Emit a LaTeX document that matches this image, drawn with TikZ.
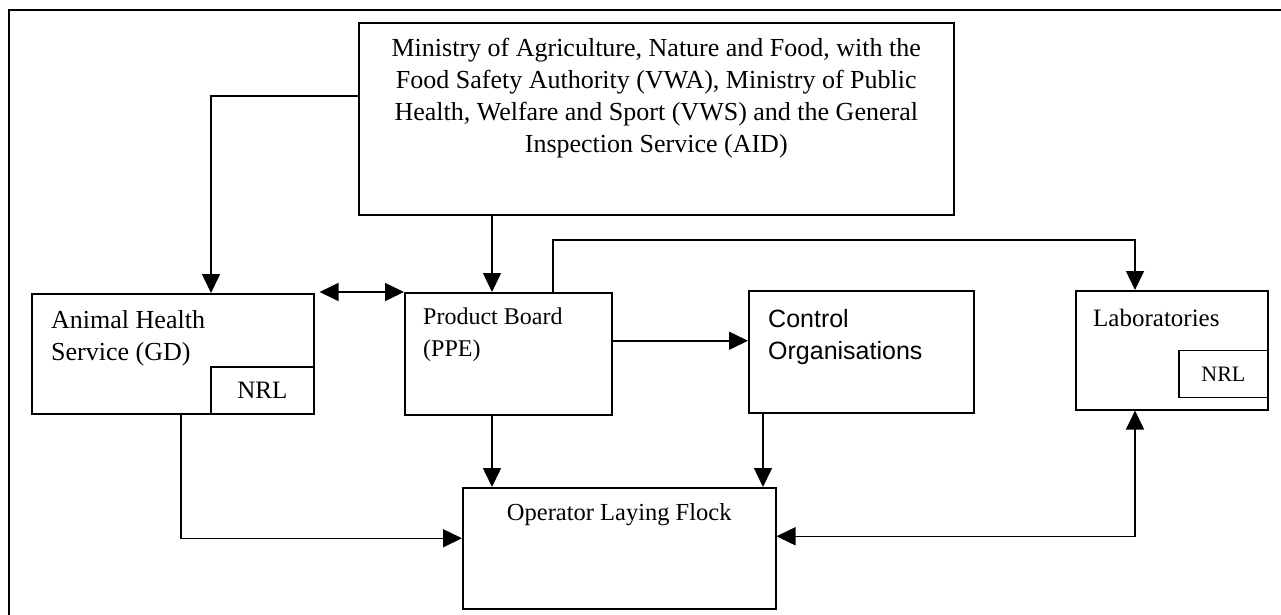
\documentclass[tikz,border=0pt]{standalone}
\usepackage{fontspec}
\setmainfont{Liberation Serif}
\setsansfont{Liberation Sans}
\usetikzlibrary{arrows.meta,positioning}

\begin{document}
\begin{tikzpicture}[
  x=1pt,
  y=-1pt,
  >={Triangle[length=19pt,width=18pt]},
  flow/.style={->, line width=1.5pt, draw=black},
  both/.style={<->, line width=1.5pt, draw=black},
  frame/.style={draw=black, line width=1.2pt},
  box/.style={draw=black, line width=1.5pt, anchor=north west, inner sep=0pt},
  nrl/.style={draw=black, line width=1.3pt, inner sep=0pt,
    font=\fontsize{25}{30}\selectfont},
  lbl/.style={inner sep=0pt, align=left, font=\fontsize{26}{32}\selectfont},
  smalllbl/.style={lbl, font=\fontsize{24}{32}\selectfont},
  sanslbl/.style={lbl, font=\sffamily\fontsize{25}{32}\selectfont}
]
\useasboundingbox (0,0) rectangle (1281,614);

% Outer frame, cut by the page on the right and at the bottom.
\begin{scope}
  \clip (0,0) rectangle (1281,614);
  \draw[frame] (9,10) rectangle (1300,640);
\end{scope}

% Ministry at the top.
\node[box, minimum width=595, minimum height=192] (min) at (358,22) {};
\node[lbl, align=center, below=16pt of min.north] (mintext)
  {Ministry of Agriculture, Nature and Food, with the\\
   Food Safety Authority (VWA), Ministry of Public\\
   Health, Welfare and Sport (VWS) and the General\\
   Inspection Service (AID)};

% Middle row.
\node[box, minimum width=282, minimum height=120] (ah) at (31,293) {};
\node[lbl, below right=17pt and 20pt of ah.north west] (ahtext)
  {Animal Health\\Service (GD)};
\node[nrl, minimum width=103, minimum height=47, anchor=south east]
  (ahnrl) at (ah.south east) {NRL};

\node[box, minimum width=207, minimum height=122] (pb) at (404,292) {};
\node[smalllbl, below right=16pt and 19pt of pb.north west] (pbtext)
  {Product Board\\(PPE)};

\node[box, minimum width=225, minimum height=122] (co) at (748,290) {};
\node[sanslbl, below right=19pt and 20pt of co.north west] (cotext)
  {Control\\Organisations};

\node[box, minimum width=192, minimum height=119] (lab) at (1075,290) {};
\node[lbl, font=\fontsize{25}{32}\selectfont,
  below right=19pt and 18pt of lab.north west] (labtext) {Laboratories};
\node[nrl, minimum width=89, minimum height=47, anchor=north east,
  font=\fontsize{22}{26}\selectfont]
  (labnrl) at ([yshift=-60]lab.north east) {NRL};

% Operator at the bottom.
\node[box, minimum width=313, minimum height=121] (op) at (462,487) {};
\node[lbl, font=\fontsize{24.5}{30}\selectfont, below=16pt of op.north]
  (optext) {Operator Laying Flock};

% Connectors.
\draw[flow] ([yshift=-74]min.north west) -| ([xshift=180]ah.north west);
\draw[flow] ([xshift=134]min.south west) -- ([xshift=88]pb.north west);
\draw[both] ([xshift=5]ah.north east |- pb.north west) -- (pb.north west);
\draw[flow] ([xshift=149]pb.north west) -- ++(0,-52)
  -| ([xshift=60]lab.north west);
\draw[flow] ([yshift=13]pb.east) -- ([yshift=13]pb.east -| co.west);
\draw[flow] ([xshift=88]pb.south west) -- ([xshift=88]pb.south west |- op.north);
\draw[flow] ([xshift=15]co.south west) -- ([xshift=15]co.south west |- op.north);
\draw[flow] ([xshift=150]ah.south west) |- ([yshift=10]op.west);
\draw[both] ([yshift=12]op.east) -| ([xshift=60]lab.south west);

\end{tikzpicture}
\end{document}
